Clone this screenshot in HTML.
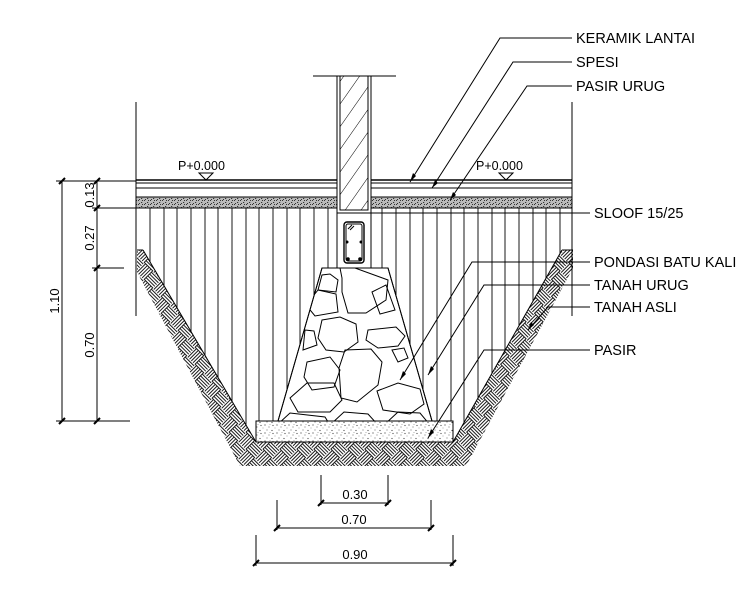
<!DOCTYPE html>
<html><head><meta charset="utf-8"><style>
html,body{margin:0;padding:0;background:#fff;width:755px;height:601px;overflow:hidden}
svg{display:block}
text{font-family:"Liberation Sans",Arial,sans-serif;fill:#000}
</style></head><body>
<svg width="755" height="601" viewBox="0 0 755 601" xmlns="http://www.w3.org/2000/svg">
<defs>
<pattern id="weave" width="24" height="24" patternUnits="userSpaceOnUse" patternTransform="rotate(45)">
<rect width="24" height="24" fill="#fff"/>
<g stroke="#000" stroke-width="0.9">
<line x1="0" y1="1.5" x2="12" y2="1.5"/><line x1="0" y1="4" x2="12" y2="4"/><line x1="0" y1="6.5" x2="12" y2="6.5"/><line x1="0" y1="9" x2="12" y2="9"/><line x1="0" y1="11.5" x2="12" y2="11.5"/>
<line x1="12" y1="13.5" x2="24" y2="13.5"/><line x1="12" y1="16" x2="24" y2="16"/><line x1="12" y1="18.5" x2="24" y2="18.5"/><line x1="12" y1="21" x2="24" y2="21"/><line x1="12" y1="23.5" x2="24" y2="23.5"/>
<line x1="13.5" y1="0" x2="13.5" y2="12"/><line x1="16" y1="0" x2="16" y2="12"/><line x1="18.5" y1="0" x2="18.5" y2="12"/><line x1="21" y1="0" x2="21" y2="12"/><line x1="23.5" y1="0" x2="23.5" y2="12"/>
<line x1="1.5" y1="12" x2="1.5" y2="24"/><line x1="4" y1="12" x2="4" y2="24"/><line x1="6.5" y1="12" x2="6.5" y2="24"/><line x1="9" y1="12" x2="9" y2="24"/><line x1="11.5" y1="12" x2="11.5" y2="24"/>
</g></pattern>
<pattern id="sand" width="12" height="8" patternUnits="userSpaceOnUse">
<rect width="12" height="8" fill="#fff"/>
<g fill="#444"><circle cx="1" cy="1" r="0.6"/><circle cx="5" cy="3" r="0.5"/><circle cx="9" cy="1.5" r="0.6"/><circle cx="3" cy="6" r="0.5"/><circle cx="8" cy="6.5" r="0.6"/><circle cx="11" cy="4" r="0.4"/><circle cx="6" cy="0.5" r="0.4"/></g>
</pattern>
<pattern id="spesi" width="6" height="4" patternUnits="userSpaceOnUse">
<rect width="6" height="4" fill="#bbb"/>
<g fill="#333"><rect x="0" y="0" width="1" height="1"/><rect x="3" y="2" width="1.2" height="1"/><rect x="4" y="0" width="1" height="1"/><rect x="1" y="3" width="1" height="1"/></g>
</pattern>
<pattern id="diag" width="13" height="13" patternUnits="userSpaceOnUse" patternTransform="rotate(35)">
<rect width="13" height="13" fill="#fff"/><line x1="0" y1="0" x2="0" y2="13" stroke="#000" stroke-width="1"/>
</pattern>
<clipPath id="fillclip"><polygon points="137,208 571,208 571,250 562,250 453,442 256,442 143,250 137,250"/></clipPath>
<clipPath id="stoneclip"><polygon points="322,268 388,268 432,421 278,421"/></clipPath>
</defs>

<g stroke="#000" fill="none" stroke-width="1">
<polygon points="137,250 143,250 256,442 453,442 562,250 573,250 573,268 466,466 240,466 137,272" fill="url(#weave)" stroke="none"/>
<polyline points="143,250 256,442 453,442 562,250"/>
<line x1="137" y1="250" x2="143" y2="250"/><line x1="562" y1="250" x2="573" y2="250"/>

<g clip-path="url(#fillclip)" stroke-width="0.9">
<line x1="150" y1="208" x2="150" y2="450"/><line x1="164" y1="208" x2="164" y2="450"/><line x1="177" y1="208" x2="177" y2="450"/><line x1="191" y1="208" x2="191" y2="450"/><line x1="205" y1="208" x2="205" y2="450"/><line x1="218" y1="208" x2="218" y2="450"/><line x1="232" y1="208" x2="232" y2="450"/><line x1="246" y1="208" x2="246" y2="450"/><line x1="259" y1="208" x2="259" y2="450"/><line x1="273" y1="208" x2="273" y2="450"/><line x1="287" y1="208" x2="287" y2="450"/><line x1="300" y1="208" x2="300" y2="450"/><line x1="314" y1="208" x2="314" y2="450"/><line x1="328" y1="208" x2="328" y2="450"/><line x1="382" y1="208" x2="382" y2="450"/><line x1="396" y1="208" x2="396" y2="450"/><line x1="410" y1="208" x2="410" y2="450"/><line x1="423" y1="208" x2="423" y2="450"/><line x1="437" y1="208" x2="437" y2="450"/><line x1="451" y1="208" x2="451" y2="450"/><line x1="464" y1="208" x2="464" y2="450"/><line x1="478" y1="208" x2="478" y2="450"/><line x1="492" y1="208" x2="492" y2="450"/><line x1="505" y1="208" x2="505" y2="450"/><line x1="519" y1="208" x2="519" y2="450"/><line x1="533" y1="208" x2="533" y2="450"/><line x1="546" y1="208" x2="546" y2="450"/><line x1="560" y1="208" x2="560" y2="450"/>
</g>

<line x1="136" y1="102" x2="136" y2="316"/>
<line x1="572" y1="102" x2="572" y2="316"/>

<line x1="136" y1="180" x2="337" y2="180" stroke-width="1.4"/><line x1="371" y1="180" x2="572" y2="180" stroke-width="1.4"/>
<line x1="136" y1="183" x2="337" y2="183"/><line x1="371" y1="183" x2="572" y2="183"/>
<line x1="136" y1="188" x2="337" y2="188"/><line x1="371" y1="188" x2="572" y2="188"/>
<rect x="136" y="197" width="201" height="11" fill="url(#spesi)"/><rect x="371" y="197" width="201" height="11" fill="url(#spesi)"/>

<line x1="313" y1="76" x2="396" y2="76"/>
<rect x="337" y="76" width="34" height="137" fill="#fff"/>
<rect x="340" y="76" width="28" height="134" fill="url(#diag)"/>
<rect x="337" y="213" width="34" height="55" fill="#fff"/>
<rect x="344" y="222" width="20" height="41" rx="3" stroke-width="1.4"/>
<rect x="346" y="224" width="16" height="37" rx="2"/>
<circle cx="347" cy="242" r="1" fill="#000"/><circle cx="361" cy="242" r="1" fill="#000"/><circle cx="348" cy="259" r="1.3" fill="#000"/><circle cx="360" cy="259" r="1.3" fill="#000"/>
<line x1="348" y1="229" x2="352" y2="225"/><line x1="350" y1="230" x2="354" y2="226"/>

<polygon points="322,268 388,268 432,421 278,421" fill="#fff"/>
<g clip-path="url(#stoneclip)">
<polygon points="340,268 355,268 388,280 386,300 366,313 348,313 342,292 342,278"/>
<polygon points="318,290 336,294 338,312 315,316 306,305"/>
<polygon points="322,320 340,317 356,324 358,342 344,352 326,350 318,338"/>
<polygon points="368,330 396,327 405,336 398,346 378,348 366,340"/>
<polygon points="345,350 371,349 382,362 378,385 357,402 341,398 339,368"/>
<polygon points="307,362 330,357 340,370 334,387 312,390 304,377"/>
<polygon points="290,398 307,383 334,383 342,400 330,412 298,412"/>
<polygon points="377,391 398,383 420,389 424,404 410,414 383,410"/>
<polygon points="305,330 314,331 317,345 303,350"/>
<polygon points="392,350 404,348 408,358 398,362"/>
<polygon points="277,425 290,413 325,417 330,425"/>
<polygon points="330,425 344,412 368,414 378,425"/>
<polygon points="384,425 398,412 420,413 430,425"/>
<polygon points="330,274 338,280 336,292 318,290 322,275"/>
<polygon points="372,292 386,285 395,310 380,314"/>
</g>
<polygon points="322,268 388,268 432,421 278,421"/>

<rect x="256" y="421" width="197" height="21" fill="url(#sand)"/>

<polygon points="199,173 213,173 206,180"/><polygon points="499,173 513,173 506,180"/>

<polyline points="572,38 500,38 410,182"/>
<polyline points="572,62 513,62 432,188"/>
<polyline points="572,86 527,86 450,200"/>
<line x1="371" y1="213" x2="590" y2="213"/>
<polyline points="590,262 472,262 400,380"/>
<polyline points="590,285 484,285 428,375"/>
<polyline points="590,307 548,307 528,330"/>
<polyline points="590,350 484,350 428,438"/>
<g fill="#000" stroke="none">
<polygon points="410,182 413,173 416,176"/><polygon points="432,188 435,180 438,183"/><polygon points="450,200 453,192 456,195"/>
<polygon points="400,380 403,371 406,374"/><polygon points="428,375 431,366 434,369"/><polygon points="528,330 531,322 534,325"/><polygon points="428,438 431,429 434,432"/>
</g>

<line x1="62" y1="181" x2="62" y2="421"/>
<line x1="56" y1="181" x2="136" y2="181"/>
<line x1="56" y1="421" x2="130" y2="421"/>
<line x1="97" y1="181" x2="97" y2="421"/>
<line x1="92" y1="208" x2="136" y2="208"/>
<line x1="92" y1="268" x2="124" y2="268"/>
<g stroke-width="2">
<line x1="59" y1="184" x2="65" y2="178"/><line x1="59" y1="424" x2="65" y2="418"/>
<line x1="94" y1="184" x2="100" y2="178"/><line x1="94" y1="211" x2="100" y2="205"/><line x1="94" y1="271" x2="100" y2="265"/><line x1="94" y1="424" x2="100" y2="418"/>
</g>

<line x1="321" y1="475" x2="321" y2="505"/><line x1="388" y1="475" x2="388" y2="505"/><line x1="321" y1="503" x2="388" y2="503"/>
<line x1="277" y1="500" x2="277" y2="530"/><line x1="431" y1="500" x2="431" y2="530"/><line x1="277" y1="528" x2="431" y2="528"/>
<line x1="256" y1="535" x2="256" y2="566"/><line x1="453" y1="535" x2="453" y2="566"/><line x1="256" y1="563" x2="453" y2="563"/>
<g stroke-width="2">
<line x1="318" y1="506" x2="324" y2="500"/><line x1="385" y1="506" x2="391" y2="500"/>
<line x1="274" y1="531" x2="280" y2="525"/><line x1="428" y1="531" x2="434" y2="525"/>
<line x1="253" y1="566" x2="259" y2="560"/><line x1="450" y1="566" x2="456" y2="560"/>
</g>
</g>

<g font-size="14.5">
<text x="178" y="170" font-size="12.5">P+0.000</text>
<text x="476" y="170" font-size="12.5">P+0.000</text>
<text x="576" y="43">KERAMIK LANTAI</text>
<text x="576" y="67">SPESI</text>
<text x="576" y="91">PASIR URUG</text>
<text x="594" y="218">SLOOF 15/25</text>
<text x="594" y="267">PONDASI BATU KALI</text>
<text x="594" y="290">TANAH URUG</text>
<text x="594" y="312">TANAH ASLI</text>
<text x="594" y="355">PASIR</text>
<text x="355" y="499" text-anchor="middle" font-size="13">0.30</text>
<text x="354" y="524" text-anchor="middle" font-size="13">0.70</text>
<text x="355" y="559" text-anchor="middle" font-size="13">0.90</text>
<text transform="translate(59,301) rotate(-90)" text-anchor="middle" font-size="13">1.10</text>
<text transform="translate(94,195) rotate(-90)" text-anchor="middle" font-size="13">0.13</text>
<text transform="translate(94,238) rotate(-90)" text-anchor="middle" font-size="13">0.27</text>
<text transform="translate(94,345) rotate(-90)" text-anchor="middle" font-size="13">0.70</text>
</g>
</svg>
</body></html>
